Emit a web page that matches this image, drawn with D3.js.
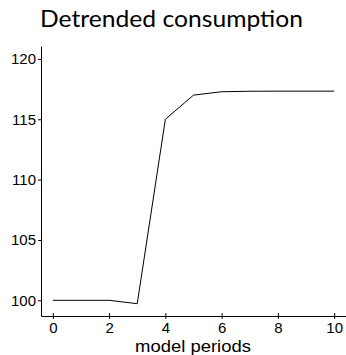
<!DOCTYPE html>
<html>
<head>
<meta charset="utf-8">
<script src="https://cdn.jsdelivr.net/npm/d3@7"></script>
<style>
  html, body { margin: 0; padding: 0; background: #fff; }
  svg { display: block; }
</style>
</head>
<body>
<svg id="chart" width="346" height="355"></svg>
<script>
// Detrended consumption path over model periods
const periods = [0, 1, 2, 3, 4, 5, 6, 7, 8, 9, 10];
const consumption = [100, 100, 100, 99.72, 115, 117.0, 117.28, 117.32, 117.33, 117.33, 117.33];
const xTicks = [0, 2, 4, 6, 8, 10];
const yTicks = [100, 105, 110, 115, 120];
const titleText = "Detrended consumption";
const xLabelText = "model periods";

const svg = d3.select("#chart");

const x = d3.scaleLinear().domain([-0.42, 10.42]).range([41, 346]);
const y = d3.scaleLinear().domain([98.7, 121.07]).range([316, 46]);

// Axes
const xAxis = svg.append("g")
  .attr("transform", `translate(0,${y(98.7)})`)
  .call(d3.axisBottom(x).tickValues(xTicks).tickSize(3).tickSizeOuter(0).tickPadding(3));
xAxis.selectAll(".tick line").attr("y1", -3).attr("y2", 3);

const yAxis = svg.append("g")
  .attr("transform", `translate(${x(-0.42)},0)`)
  .call(d3.axisLeft(y).tickValues(yTicks).tickSize(3).tickSizeOuter(0).tickPadding(2));
yAxis.selectAll(".tick line").attr("x1", -3).attr("x2", 1);

svg.selectAll(".domain").attr("stroke", "#000").attr("stroke-width", 1);
svg.selectAll(".tick line").attr("stroke", "#000").attr("stroke-width", 1);
svg.selectAll(".tick text")
  .attr("fill", "#000")
  .style("font-family", "'Liberation Sans', Arial, sans-serif")
  .style("font-size", "15px");

// Line
const line = d3.line().x((d, i) => x(periods[i])).y(d => y(d));
svg.append("path")
  .datum(consumption)
  .attr("fill", "none")
  .attr("stroke", "#000")
  .attr("stroke-width", 1)
  .attr("d", line);

// Title
svg.append("text")
  .attr("x", 171.5)
  .attr("y", 27)
  .attr("text-anchor", "middle")
  .style("font-family", "Lato, 'DejaVu Sans', sans-serif")
  .style("font-size", "24px")
  .attr("textLength", 263)
  .attr("lengthAdjust", "spacingAndGlyphs")
  .attr("fill", "#000")
  .text(titleText);

// X axis label
svg.append("text")
  .attr("x", 193)
  .attr("y", 351.5)
  .attr("text-anchor", "middle")
  .style("font-family", "'Liberation Sans', Arial, sans-serif")
  .style("font-size", "17px")
  .attr("textLength", 116)
  .attr("lengthAdjust", "spacingAndGlyphs")
  .attr("fill", "#000")
  .text(xLabelText);
</script>
</body>
</html>
